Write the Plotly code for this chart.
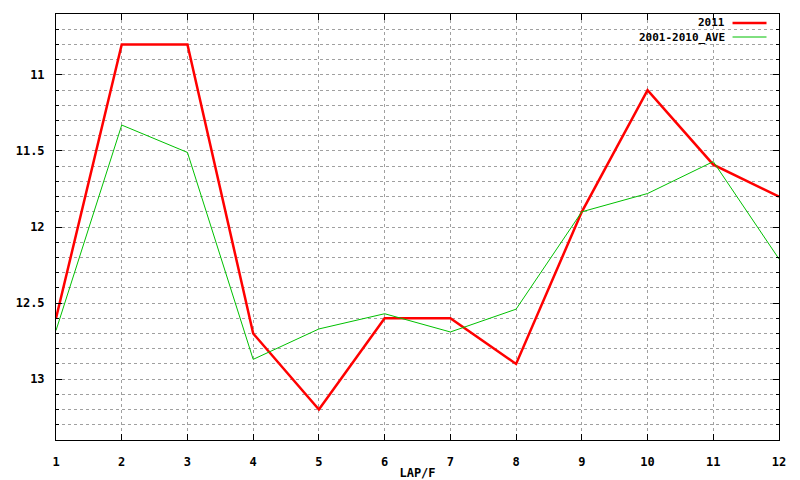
import plotly.graph_objects as go

laps = [1, 2, 3, 4, 5, 6, 7, 8, 9, 10, 11, 12]
y2011 = [12.6, 10.8, 10.8, 12.7, 13.2, 12.6, 12.6, 12.9, 11.9, 11.1, 11.59, 11.8]
yave = [12.68, 11.33, 11.51, 12.87, 12.67, 12.57, 12.69, 12.54, 11.9, 11.78, 11.57, 12.21]
ytick_vals = [11, 11.5, 12, 12.5, 13]
ytick_text = ["11", "11.5", "12", "12.5", "13"]
names = ["2011", "2001-2010_AVE"]

OFF = 8  # browser default body margin
W, H = 800 - OFF, 480 - OFF
L, T = 56 - OFF, 14 - OFF
pw, ph = 723.5, 426
R, B = W - L - pw, H - T - ph

def px(x):
    return (x - OFF - L) / pw

def py(y):
    return (H - B - (y - OFF)) / ph

FONT = dict(family="DejaVu Sans Mono", size=12, color="black", weight="bold")
LFONT = dict(family="DejaVu Sans Mono", size=11, color="black", weight="bold")
GRID = "#a0a0a0"

fig = go.Figure()
fig.add_trace(go.Scatter(x=laps, y=y2011, mode="lines", name=names[0],
                         line=dict(color="#ff0000", width=2.5)))
fig.add_trace(go.Scatter(x=laps, y=yave, mode="lines", name=names[1],
                         line=dict(color="#00c000", width=1)))

fig.update_layout(
    width=W, height=H, showlegend=False,
    margin=dict(l=L, r=R, t=T, b=B, pad=0, autoexpand=False),
    paper_bgcolor="white", plot_bgcolor="white",
    font=FONT,
    xaxis=dict(range=[1, 12], tickmode="linear", tick0=1, dtick=1,
               showgrid=True, gridcolor=GRID, griddash="3px,3px", gridwidth=1,
               ticks="inside", ticklen=6, tickcolor="black", ticklabelstandoff=11,
               showline=True, linecolor="black", linewidth=1, mirror="ticks",
               zeroline=False, title=dict(text="LAP/F", standoff=9, font=FONT)),
    yaxis=dict(range=[13.4, 10.6], tickmode="array", tickvals=ytick_vals, ticktext=ytick_text,
               showgrid=True, gridcolor=GRID, griddash="3px,3px", gridwidth=1,
               ticks="inside", ticklen=6, tickcolor="black", ticklabelstandoff=8,
               showline=True, linecolor="black", linewidth=1, mirror="ticks",
               zeroline=False,
               minor=dict(tick0=11, dtick=0.1, showgrid=True, gridcolor=GRID,
                          griddash="3px,3px", gridwidth=1, ticks="inside", ticklen=3,
                          tickcolor="black")),
)

# legend (gnuplot style: text left, sample right)
for i, (nm, col, wd) in enumerate([(names[0], "#ff0000", 2.5), (names[1], "#00c000", 1)]):
    yy = 23 + 14 * i
    fig.add_annotation(x=px(726), y=py(yy), xref="paper", yref="paper", text=nm,
                       showarrow=False, xanchor="right", yanchor="middle", font=LFONT,
                       borderpad=0)
    fig.add_shape(type="line", xref="paper", yref="paper", x0=px(733), x1=px(767),
                  y0=py(yy), y1=py(yy), line=dict(color=col, width=wd))

fig.write_html("out.html")
